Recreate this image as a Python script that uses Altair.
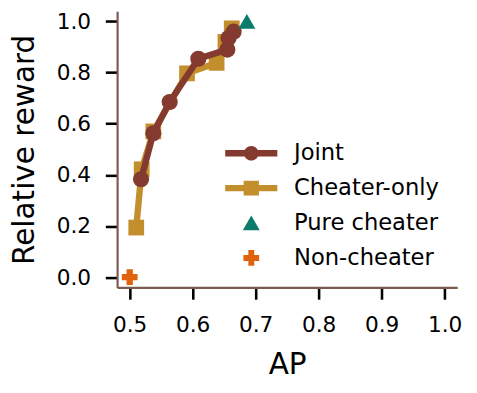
import altair as alt
import pandas as pd

# ---- data ----
series_names = ["Joint", "Cheater-only", "Pure cheater", "Non-cheater"]
series_colors = ["#843a2e", "#c28f2c", "#0b7b6b", "#e0620b"]

joint_ap = [0.518, 0.5375, 0.5635, 0.609, 0.655, 0.657, 0.665]
joint_rr = [0.383, 0.563, 0.685, 0.854, 0.890, 0.935, 0.960]

cheater_ap = [0.5104, 0.519, 0.5375, 0.591, 0.638, 0.652, 0.662]
cheater_rr = [0.194, 0.422, 0.570, 0.797, 0.838, 0.920, 0.973]

pure_ap = [0.686]
pure_rr = [1.0]

non_ap = [0.5]
non_rr = [0.0]

x_ticks = [0.5, 0.6, 0.7, 0.8, 0.9, 1.0]
y_ticks = [0.0, 0.2, 0.4, 0.6, 0.8, 1.0]


def frame(name, xs, ys):
    return pd.DataFrame({"ap": xs, "rr": ys, "series": name, "idx": list(range(len(xs)))})


df_joint = frame("Joint", joint_ap, joint_rr)
df_cheat = frame("Cheater-only", cheater_ap, cheater_rr)
df_pure = frame("Pure cheater", pure_ap, pure_rr)
df_non = frame("Non-cheater", non_ap, non_rr)

W, H = 346, 281

x_enc = alt.X(
    "ap:Q",
    scale=alt.Scale(domain=[0.48, 1.02], nice=False, zero=False),
    axis=alt.Axis(
        values=x_ticks, format=".1f", title="AP", labelPadding=16,
        titleX=W / 2, titleY=88, titleBaseline="alphabetic", titleAlign="center",
    ),
)
y_enc = alt.Y(
    "rr:Q",
    scale=alt.Scale(domain=[-0.04, 1.04], nice=False, zero=False),
    axis=alt.Axis(
        values=y_ticks, format=".1f", title="Relative reward", labelPadding=15,
        titleX=-85, titleY=H / 2, titleAngle=270, titleBaseline="alphabetic",
        titleAlign="center",
    ),
)

color_scale = alt.Scale(domain=series_names, range=series_colors)

# legend symbol paths (unit = sqrt(symbolSize)/2 = 10 px)
p_joint = ("M -2.65 -0.32 H -0.6 V 0.32 H -2.65 Z "
           "M 0.6 -0.32 H 2.65 V 0.32 H 0.6 Z "
           "M 0.75 0 A 0.75 0.75 0 1 1 -0.75 0 A 0.75 0.75 0 1 1 0.75 0 Z")
p_cheat = ("M -2.65 -0.32 H -0.7 V 0.32 H -2.65 Z "
           "M 0.7 -0.32 H 2.65 V 0.32 H 0.7 Z "
           "M -0.78 -0.74 H 0.78 V 0.74 H -0.78 Z")
p_pure = "M 0 -0.76 L 0.86 0.74 L -0.86 0.74 Z"
p_non = ("M -0.3 -0.8 H 0.3 V -0.3 H 0.8 V 0.3 H 0.3 V 0.8 H -0.3 "
         "V 0.3 H -0.8 V -0.3 H -0.3 Z")
shape_expr = (
    f"datum.value === 'Joint' ? '{p_joint}' : "
    f"datum.value === 'Cheater-only' ? '{p_cheat}' : "
    f"datum.value === 'Pure cheater' ? '{p_pure}' : '{p_non}'"
)

legend = alt.Legend(
    title=None, orient="none", legendX=125, legendY=133, padding=0,
    symbolSize=400, symbolStrokeWidth=0, symbolOpacity=1,
    symbolType=alt.ExprRef(expr=shape_expr),
    labelFontSize=23, labelFont="DejaVu Sans", labelColor="black",
    labelOffset=32, rowPadding=11.5,
)


def line_layer(df):
    return alt.Chart(df).mark_line(strokeWidth=6.5).encode(
        x=x_enc, y=y_enc, order="idx:Q",
        color=alt.Color("series:N", scale=color_scale, legend=legend),
    )


def point_layer(df, shape, size):
    return alt.Chart(df).mark_point(
        filled=True, shape=shape, size=size, opacity=1, strokeWidth=0
    ).encode(
        x=x_enc, y=y_enc,
        color=alt.Color("series:N", scale=color_scale, legend=legend),
    )


chart = alt.layer(
    line_layer(df_cheat),
    point_layer(df_cheat, "square", 256),
    line_layer(df_joint),
    point_layer(df_joint, "circle", 270),
    point_layer(df_pure, "triangle-up", 300),
    point_layer(df_non, "cross", 256),
).properties(
    width=W, height=H,
    autosize=alt.AutoSizeParams(type="none"),
    padding={"left": 111, "top": 0, "right": 12, "bottom": 96},
).configure_view(stroke=None).configure_axis(
    grid=False, domainColor="#7b5a50", domainWidth=2.2,
    tickColor="black", tickWidth=2.6, tickSize=12,
    labelFont="DejaVu Sans", labelFontSize=22, labelColor="black",
    titleFont="DejaVu Sans", titleFontSize=30, titleFontWeight="normal",
    titleColor="black",
)

chart.save("out.html", embed_options={"renderer": "svg", "actions": False})
